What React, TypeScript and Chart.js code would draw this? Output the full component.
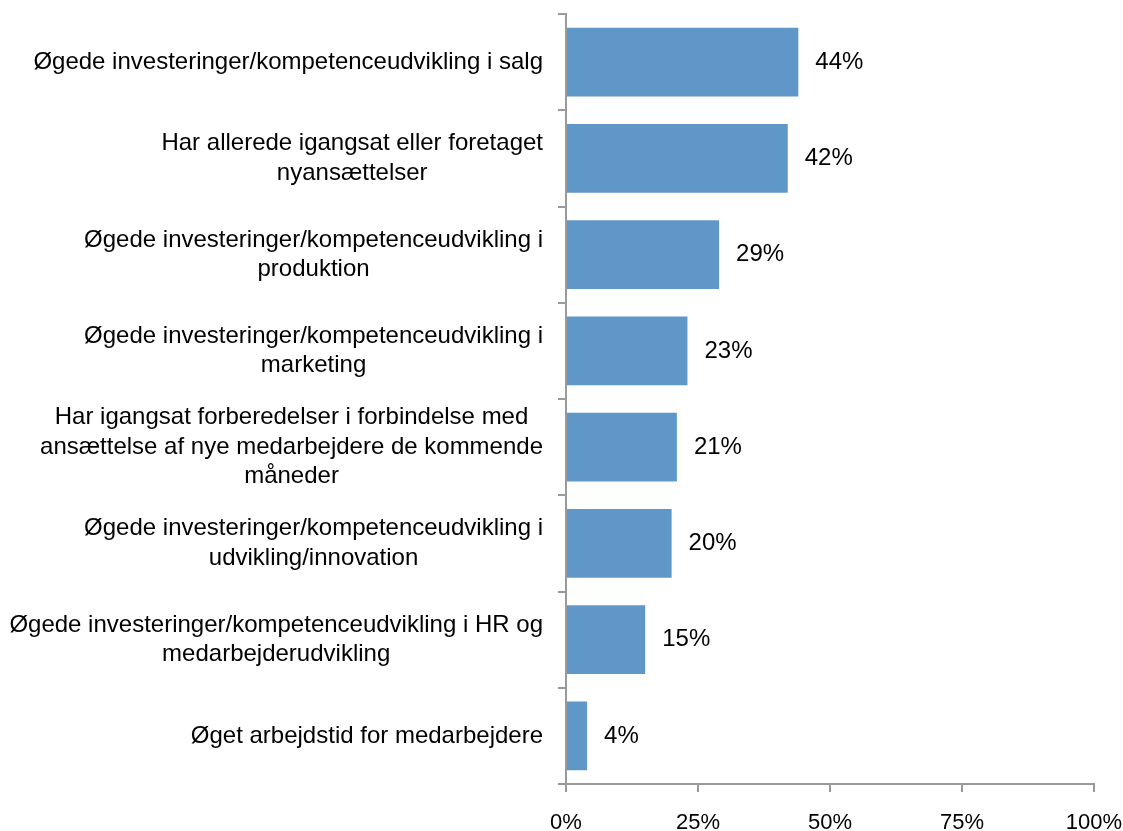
import React, { useEffect, useRef } from "react";
import { Chart, registerables } from "chart.js";

Chart.register(...registerables);

const categories: string[][] = [
  ["Øgede investeringer/kompetenceudvikling i salg"],
  ["Har allerede igangsat eller foretaget", "nyansættelser"],
  ["Øgede investeringer/kompetenceudvikling i", "produktion"],
  ["Øgede investeringer/kompetenceudvikling i", "marketing"],
  ["Har igangsat forberedelser i forbindelse med", "ansættelse af nye medarbejdere de kommende", "måneder"],
  ["Øgede investeringer/kompetenceudvikling i", "udvikling/innovation"],
  ["Øgede investeringer/kompetenceudvikling i HR og", "medarbejderudvikling"],
  ["Øget arbejdstid for medarbejdere"],
];

const values: number[] = [44, 42, 29, 23, 21, 20, 15, 4];

const xTicks: number[] = [0, 25, 50, 75, 100];

const FONT = "'Liberation Sans', Arial, sans-serif";
const AXIS_COLOR = "#9a9a9a";
const BAR_COLOR = "#6097c9";

const labelPlugin = {
  id: "customLabels",
  afterDraw(chart: any) {
    const ctx = chart.ctx;
    const yScale = chart.scales.y;
    const xScale = chart.scales.x;
    ctx.save();
    ctx.font = `24px ${FONT}`;
    ctx.fillStyle = "#000";
    ctx.textBaseline = "middle";
    const rightEdge = yScale.right - 23;
    const lineH = 29.5;
    categories.forEach((lines, i) => {
      const cy = yScale.getPixelForValue(i);
      let maxW = 0;
      lines.forEach((l) => {
        maxW = Math.max(maxW, ctx.measureText(l).width);
      });
      const cx = rightEdge - maxW / 2;
      ctx.textAlign = "center";
      const startY = cy - ((lines.length - 1) * lineH) / 2;
      lines.forEach((l, k) => {
        ctx.fillText(l, cx, startY + k * lineH);
      });
    });
    ctx.textAlign = "left";
    const meta = chart.getDatasetMeta(0);
    meta.data.forEach((bar: any, i: number) => {
      const x = xScale.getPixelForValue(values[i]);
      ctx.fillText(`${values[i]}%`, x + 17, bar.y);
    });
    ctx.restore();
  },
};

export default function App() {
  const ref = useRef<HTMLCanvasElement | null>(null);
  useEffect(() => {
    if (!ref.current) return;
    const chart = new Chart(ref.current, {
      type: "bar",
      data: {
        labels: categories.map((c) => c.join(" ")),
        datasets: [
          {
            data: values,
            backgroundColor: BAR_COLOR,
            borderWidth: 0,
            barPercentage: 0.715,
            categoryPercentage: 1,
          },
        ],
      },
      options: {
        indexAxis: "y",
        responsive: false,
        animation: false,
        layout: { padding: { top: 14, right: 29, left: 0, bottom: 0 } },
        plugins: {
          legend: { display: false },
          tooltip: { enabled: false },
          title: { display: false },
        },
        scales: {
          x: {
            min: 0,
            max: 100,
            afterBuildTicks(scale: any) {
              scale.ticks = xTicks.map((v) => ({ value: v }));
            },
            afterFit(scale: any) {
              scale.height = 47;
              scale.paddingRight = 0;
              scale.paddingLeft = 0;
            },
            ticks: {
              callback: (v: any) => `${v}%`,
              font: { size: 22, family: FONT },
              color: "#000",
              padding: 18,
              maxRotation: 0,
            },
            grid: {
              drawOnChartArea: false,
              drawTicks: true,
              tickLength: 8,
              color: AXIS_COLOR,
              lineWidth: 2,
            },
            border: { color: AXIS_COLOR, width: 2 },
          },
          y: {
            offset: true,
            afterFit(scale: any) {
              scale.width = 566;
            },
            ticks: { display: false },
            grid: {
              offset: true,
              drawOnChartArea: false,
              drawTicks: true,
              tickLength: 8,
              color: AXIS_COLOR,
              lineWidth: 2,
            },
            border: { color: AXIS_COLOR, width: 2 },
          },
        },
      },
      plugins: [labelPlugin],
    });
    return () => chart.destroy();
  }, []);
  return (
    <div style={{ position: "absolute", left: 0, top: 0, width: 1123, height: 831, background: "#fff" }}>
      <canvas ref={ref} width={1123} height={831} />
    </div>
  );
}
